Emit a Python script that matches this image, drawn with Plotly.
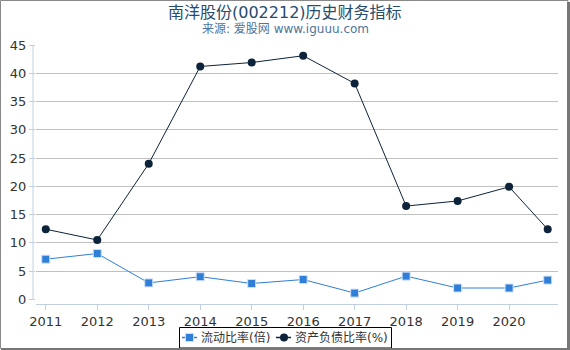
import plotly.graph_objects as go

years = [2011, 2012, 2013, 2014, 2015, 2016, 2017, 2018, 2019, 2020, 2020.75]
tick_vals = [2011, 2012, 2013, 2014, 2015, 2016, 2017, 2018, 2019, 2020]
tick_text = ["2011", "2012", "2013", "2014", "2015", "2016", "2017", "2018", "2019", "2020"]
current_ratio = [7.1, 8.1, 2.9, 4.0, 2.8, 3.5, 1.1, 4.1, 2.0, 2.0, 3.4]
debt_ratio = [12.4, 10.5, 24.0, 41.2, 41.9, 43.1, 38.2, 16.5, 17.4, 19.9, 12.4]
y_ticks = [0, 5, 10, 15, 20, 25, 30, 35, 40, 45]
series_names = ["流动比率(倍)", "资产负债比率(%)"]
series_colors = ["#2f7ed8", "#0d233a"]

FONT = "DejaVu Sans, Noto Sans CJK SC, sans-serif"

fig = go.Figure()
fig.add_trace(go.Scatter(
    x=years, y=current_ratio, name=series_names[0], mode="lines+markers",
    line=dict(color=series_colors[0], width=1),
    marker=dict(symbol="square", size=8, color=series_colors[0],
                line=dict(color="#cfe0f5", width=1)),
))
fig.add_trace(go.Scatter(
    x=years, y=debt_ratio, name=series_names[1], mode="lines+markers",
    line=dict(color=series_colors[1], width=1),
    marker=dict(symbol="circle", size=8, color=series_colors[1]),
))

W, H, L, R, T, B = 570, 350, 36, 12, 45, 46
pw = W - L - R
ph = H - T - B


def px(x):
    return (x - L) / pw


def py(y):
    return (H - B - y) / ph


fig.update_layout(
    width=W, height=H,
    margin=dict(l=L, r=R, t=T, b=B, autoexpand=False),
    paper_bgcolor="white", plot_bgcolor="white",
    font=dict(family=FONT, size=12, color="#333333"),
    xaxis=dict(
        range=[2010.81, 2020.95], tickvals=tick_vals, ticktext=tick_text,
        showgrid=False, zeroline=False, showline=True, linecolor="#c0d0e0",
        ticks="outside", ticklen=5, tickcolor="#c0d0e0",
        tickfont=dict(size=13, color="#333333"),
    ),
    yaxis=dict(
        range=[-0.83, 45], tickvals=y_ticks, showgrid=True, gridcolor="#c0c0c0",
        zeroline=True, zerolinecolor="rgba(0,0,0,0)", showline=False,
        ticks="outside", ticklen=6, tickcolor="#c0d0e0",
        tickfont=dict(size=13, color="#333333"),
    ),
    showlegend=False,
)

fig.add_annotation(text="南洋股份(002212)历史财务指标", xref="paper", yref="paper",
                   x=px(285), xanchor="center", y=py(12), yanchor="middle", showarrow=False,
                   font=dict(size=16, color="#274b6d", family=FONT))
fig.add_annotation(text="来源: 爱股网 www.iguuu.com", xref="paper", yref="paper",
                   x=px(285), xanchor="center", y=py(28.5), yanchor="middle", showarrow=False,
                   font=dict(size=12, color="#4d759e", family=FONT))

# manual legend
fig.add_shape(type="rect", xref="paper", yref="paper",
              x0=px(179.5), x1=px(391.5), y0=py(348), y1=py(327.5),
              line=dict(color="#000000", width=1), fillcolor="white")
ly = py(337.5)
# item 1
fig.add_shape(type="line", xref="paper", yref="paper", x0=px(182), x1=px(197), y0=ly, y1=ly,
              line=dict(color=series_colors[0], width=1.5))
fig.add_shape(type="rect", xref="paper", yref="paper", x0=px(185.5), x1=px(193.5),
              y0=py(341.5), y1=py(333.5), line=dict(color="#cfe0f5", width=1),
              fillcolor=series_colors[0])
fig.add_annotation(text=series_names[0], xref="paper", yref="paper", x=px(199), xanchor="left",
                   y=ly, yanchor="middle", showarrow=False,
                   font=dict(size=12, color="#333333", family=FONT))
# item 2
fig.add_shape(type="line", xref="paper", yref="paper", x0=px(276), x1=px(291), y0=ly, y1=ly,
              line=dict(color=series_colors[1], width=1.5))
fig.add_shape(type="circle", xref="paper", yref="paper", x0=px(280), x1=px(288),
              y0=py(341.5), y1=py(333.5), line=dict(color=series_colors[1], width=0),
              fillcolor=series_colors[1])
fig.add_annotation(text=series_names[1], xref="paper", yref="paper", x=px(293), xanchor="left",
                   y=ly, yanchor="middle", showarrow=False,
                   font=dict(size=12, color="#333333", family=FONT))

# y axis line (separate, ending at 0 like the reference)
fig.add_shape(type="line", xref="paper", yref="y", x0=px(33), x1=px(33), y0=0, y1=45,
              line=dict(color="#c0d0e0", width=1))
# outer border with shadow look
fig.add_shape(type="rect", xref="paper", yref="paper",
              x0=px(0.5), x1=px(W - 2), y0=py(348.5), y1=py(0.5),
              line=dict(color="#888888", width=1))
fig.add_shape(type="line", xref="paper", yref="paper",
              x0=px(W - 1.5), x1=px(W - 1.5), y0=py(350), y1=py(2),
              line=dict(color="#777777", width=3))
fig.add_shape(type="line", xref="paper", yref="paper",
              x0=px(1), x1=px(W), y0=py(349), y1=py(349),
              line=dict(color="#777777", width=2))

fig.write_html("out.html")
